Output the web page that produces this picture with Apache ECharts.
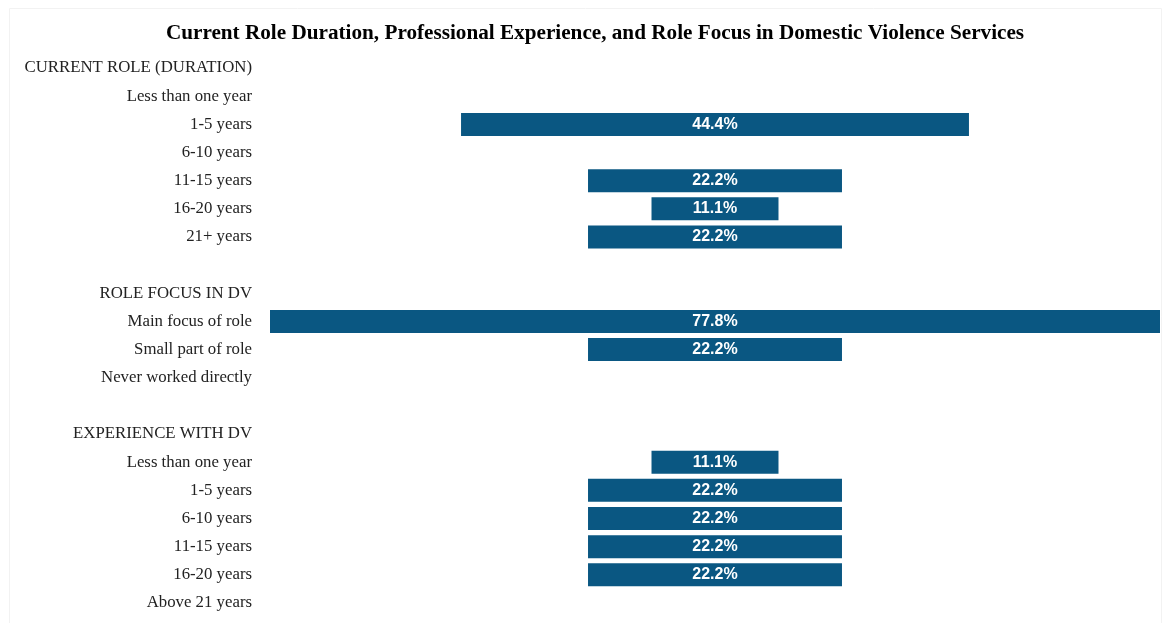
<!DOCTYPE html>
<html>
<head>
<meta charset="utf-8">
<script src="https://cdn.jsdelivr.net/npm/echarts@6/dist/echarts.min.js"></script>
<style>
  html, body { margin: 0; padding: 0; background: #fff; }
  #chart { width: 1164px; height: 623px; }
</style>
</head>
<body>
<div id="chart"></div>
<script>
  // rows from top to bottom; '' / ' ' are spacer rows between the groups
  const CATEGORIES = [
    'CURRENT ROLE (DURATION)',
    'Less than one year',
    '1-5 years',
    '6-10 years',
    '11-15 years',
    '16-20 years',
    '21+ years',
    '',
    'ROLE FOCUS IN DV',
    'Main focus of role',
    'Small part of role',
    'Never worked directly',
    ' ',
    'EXPERIENCE WITH DV',
    'Less than one year',
    '1-5 years',
    '6-10 years',
    '11-15 years',
    '16-20 years',
    'Above 21 years'
  ]
  // percent of respondents, null for header / spacer rows
  const VALUES = [
    null, 0, 44.4, 0, 22.2, 11.1, 22.2,
    null,
    null, 77.8, 22.2, 0,
    null,
    null, 11.1, 22.2, 22.2, 22.2, 22.2, 0
  ]
  const MAX = 77.8

  // transparent spacer so each bar sits centred on the axis
  const OFFSET = VALUES.map(v => (v == null ? null : (MAX - v) / 2))

  const chart = echarts.init(document.getElementById('chart'))

  const option = {
    backgroundColor: '#fff',
    animation: false,
    title: {
      text: 'Current Role Duration, Professional Experience, and Role Focus in Domestic Violence Services',
      left: 590,
      textAlign: 'center',
      top: 18,
      textStyle: {
        fontFamily: 'Liberation Serif',
        fontWeight: 'bold',
        fontSize: 21.2,
        color: '#000'
      }
    },
    graphic: [
      {
        type: 'rect',
        shape: { x: 9.5, y: 8.5, width: 1152, height: 620 },
        style: { fill: 'none', stroke: '#f2f2f2', lineWidth: 1 },
        silent: true
      }
    ],
    grid: {
      left: 270,
      right: 4,
      top: 54,
      bottom: 6
    },
    xAxis: {
      type: 'value',
      min: 0,
      max: MAX,
      show: false
    },
    yAxis: {
      type: 'category',
      data: CATEGORIES,
      inverse: true,
      axisLine: { show: false },
      axisTick: { show: false },
      splitLine: { show: false },
      axisLabel: {
        margin: 18,
        fontFamily: 'Liberation Serif',
        fontSize: 16.8,
        color: '#222',
        interval: 0
      }
    },
    series: [
      {
        type: 'bar',
        stack: 'total',
        data: OFFSET,
        barWidth: 23,
        itemStyle: { color: 'transparent' },
        silent: true
      },
      {
        type: 'bar',
        stack: 'total',
        data: VALUES,
        barWidth: 23,
        itemStyle: {
          color: '#0a5782'
        },
        label: {
          show: true,
          position: 'inside',
          color: '#fff',
          fontFamily: 'Liberation Sans',
          fontWeight: 'bold',
          fontSize: 16,
          formatter: p => (p.value ? p.value.toFixed(1) + '%' : '')
        }
      }
    ]
  }

  chart.setOption(option)
</script>
</body>
</html>
